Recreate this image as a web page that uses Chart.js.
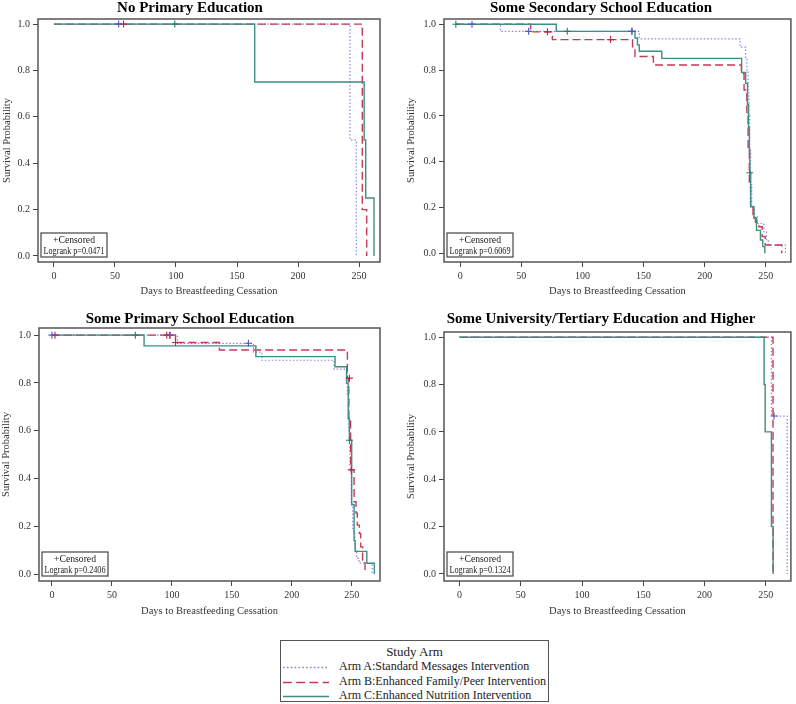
<!DOCTYPE html>
<html>
<head>
<meta charset="utf-8">
<script src="https://cdn.jsdelivr.net/npm/chart.js@4.4.0/dist/chart.umd.min.js"></script>
<style>
  body { margin: 0; background: #fff; width: 796px; height: 704px; position: relative; overflow: hidden; font-family: 'Liberation Serif', serif; }
  canvas { position: absolute; }
  #legend { position: absolute; left: 280px; top: 640px; width: 269px; height: 62px; border: 1px solid #555; box-sizing: border-box; color: #222; }
  #legend .ttl { position: absolute; left: 0; right: 0; top: 3px; text-align: center; font-size: 13px; }
  #legend .row { position: absolute; left: 2px; height: 15px; font-size: 12px; line-height: 15px; white-space: nowrap; }
  #legend svg { position: absolute; left: 0; top: 7px; }
  #legend span { position: absolute; left: 56px; top: 0; }
</style>
</head>
<body>
<canvas id="c0" width="396" height="300" style="left:0;top:0"></canvas>
<canvas id="c1" width="400" height="300" style="left:396px;top:0"></canvas>
<canvas id="c2" width="396" height="320" style="left:0;top:300px"></canvas>
<canvas id="c3" width="400" height="320" style="left:396px;top:300px"></canvas>
<div id="legend"></div>
<script>
// tick labels and names
const xTicks = [0, 50, 100, 150, 200, 250];
const yTicks = [0, 0.2, 0.4, 0.6, 0.8, 1.0];
const armLabels = [
  'Arm A:Standard Messages Intervention',
  'Arm B:Enhanced Family/Peer Intervention',
  'Arm C:Enhanced Nutrition Intervention'
];
const panelTitles = [
  'No Primary Education',
  'Some Secondary School Education',
  'Some Primary School Education',
  'Some University/Tertiary Education and Higher'
];
const logrankP = ['0.0471', '0.6069', '0.2406', '0.1324'];

// Kaplan-Meier steps: [day, survival after step]
const noPrimA = [[0, 1], [242.6, 0.5], [247.8, 0]];
const noPrimB = [[0, 1], [252.7, 0.2], [256.3, 0]];
const noPrimC = [[0, 1], [164.5, 0.75], [254.2, 0.5], [255.5, 0.25], [262.3, 0]];
const noPrimCensA = [[53, 1]];
const noPrimCensB = [[57, 1]];
const noPrimCensC = [[99, 1]];

const secA = [[-3.5, 1], [33, 0.969], [146.5, 0.936], [228.9, 0.9], [233.5, 0.85], [234.5, 0.8], [235.5, 0.7],
  [236.2, 0.6], [236.8, 0.45], [237.5, 0.3], [238.5, 0.2], [240.5, 0.16], [243, 0.13], [248.4, 0.094],
  [250.5, 0.06], [252, 0.036], [266, 0]];
const secB = [[-3.5, 1], [57.6, 0.967], [75.4, 0.933], [141, 0.902], [143, 0.859], [158, 0.822], [230, 0.785],
  [232.2, 0.713], [234.5, 0.6], [235.5, 0.45], [236.5, 0.3], [237.5, 0.2], [239.5, 0.16], [241.5, 0.135],
  [244.3, 0.116], [247, 0.073], [249.5, 0.036], [263, 0]];
const secC = [[-3.5, 1], [78.6, 0.969], [143, 0.94], [145, 0.91], [146.5, 0.882], [164.9, 0.851], [230.2, 0.79],
  [233.5, 0.742], [235, 0.65], [235.8, 0.55], [236.5, 0.45], [236.9, 0.352], [237.6, 0.203], [240.3, 0.153],
  [242.4, 0.1], [245.6, 0.058], [247.5, 0.029], [249.2, 0]];
const secCensA = [[9.7, 1], [56, 0.969], [140.5, 0.969]];
const secCensB = [[71.4, 0.967], [123, 0.933]];
const secCensC = [[-3.5, 1], [87.6, 0.969], [140.5, 0.969], [236.9, 0.352]];

const priA = [[0, 1], [104.5, 0.966], [168, 0.929], [175, 0.895], [235.2, 0.858], [246.3, 0.75], [247.5, 0.6],
  [248.5, 0.45], [249.5, 0.3], [250.8, 0.18], [252.5, 0.1], [254, 0.066], [256, 0.046], [267, 0]];
const priB = [[0, 1], [103, 0.969], [139.6, 0.938], [246.3, 0.82], [247.5, 0.65], [249, 0.436], [251.9, 0.303],
  [253.5, 0.255], [254.6, 0.205], [256.3, 0.17], [257.4, 0.114], [259, 0.059], [261, 0]];
const priC = [[0, 1], [76.8, 0.955], [170, 0.91], [236, 0.868], [245.6, 0.8], [247, 0.65], [248, 0.56],
  [249.9, 0.29], [251.9, 0.14], [252.8, 0.095], [262.5, 0.045], [268.8, 0]];
const priCensA = [[0, 1], [98, 1], [163.8, 0.966]];
const priCensB = [[2.5, 1], [95.7, 1], [98.5, 1], [103, 0.969], [248, 0.82], [249.5, 0.436]];
const priCensC = [[69.5, 1], [248, 0.56]];

const uniA = [[0, 1], [254.6, 0.667], [267.5, 0]];
const uniB = [[0, 1], [255.9, 0]];
const uniC = [[0, 1], [248.6, 0.8], [249.5, 0.6], [254.6, 0.2], [256, 0]];
const uniCensA = [[256.7, 0.667]];
const uniCensB = [];
const uniCensC = [];

const panelSeries = [
  [[noPrimA, noPrimB, noPrimC], [noPrimCensA, noPrimCensB, noPrimCensC]],
  [[secA, secB, secC], [secCensA, secCensB, secCensC]],
  [[priA, priB, priC], [priCensA, priCensB, priCensC]],
  [[uniA, uniB, uniC], [uniCensA, uniCensB, uniCensC]]
];

// styles
const armColors = ['#8787e3', '#c63a56', '#3c8f83'];
const censColors = ['#5454cc', '#c02444', '#2e7a70'];
const armDash = [[1.5, 2], [8, 4], []];

// layout for each canvas: chart area and axis ranges
const layouts = [
  { left: 38, top: 19, right: 16, xTitleGap: 38, yTitlePad: 1, xMin: -13.1, xMax: 267.2, yMin: -0.026, yMax: 1.022, titleX: 190, titleY: 8 },
  { left: 48, top: 19, right: 2, xTitleGap: 38, yTitlePad: 9, xMin: -13.2, xMax: 270.5, yMin: -0.038, yMax: 1.023, titleX: 205, titleY: 8 },
  { left: 39, top: 28, right: 16, xTitleGap: 39, yTitlePad: 0, xMin: -10.8, xMax: 273.5, yMin: -0.029, yMax: 1.03, titleX: 190, titleY: 19 },
  { left: 48, top: 32, right: 2, xTitleGap: 39, yTitlePad: 9, xMin: -12.7, xMax: 270.5, yMin: -0.03, yMax: 1.022, titleX: 205, titleY: 19 }
];

const FONT = "'Liberation Serif', serif";

const framePlugin = {
  id: 'frame',
  afterDraw(chart, args, opts) {
    const { ctx, chartArea: a } = chart;
    ctx.save();
    ctx.strokeStyle = '#555';
    ctx.lineWidth = 1.5;
    ctx.strokeRect(a.left, a.top, a.right - a.left, a.bottom - a.top);
    // title
    ctx.fillStyle = '#000';
    ctx.font = 'bold 15px ' + FONT;
    ctx.textAlign = 'center';
    ctx.textBaseline = 'middle';
    ctx.fillText(opts.title, opts.titleX, opts.titleY);
    // censored / logrank box
    const bx = a.left + 3, by = a.bottom - 29, bw = 66, bh = 24;
    ctx.fillStyle = '#fff';
    ctx.fillRect(bx, by, bw, bh);
    ctx.strokeStyle = '#444';
    ctx.lineWidth = 1.2;
    ctx.strokeRect(bx, by, bw, bh);
    ctx.fillStyle = '#222';
    ctx.font = '10px ' + FONT;
    ctx.fillText('+Censored', bx + bw / 2, by + 7, 42);
    ctx.fillText('Logrank p=' + opts.p, bx + bw / 2, by + 18, 61);
    ctx.restore();
  }
};

panelSeries.forEach(([curves, cens], k) => {
  const L = layouts[k];
  const canvas = document.getElementById('c' + k);
  const datasets = [];
  curves.forEach((pts, i) => {
    datasets.push({
      type: 'line',
      label: armLabels[i],
      data: pts.map(([x, y]) => ({ x, y })),
      stepped: true,
      borderColor: armColors[i],
      borderDash: armDash[i],
      borderWidth: i === 0 ? 1.2 : 1.4,
      pointRadius: 0,
      fill: false,
      order: 3 - i
    });
  });
  cens.forEach((pts, i) => {
    datasets.push({
      type: 'scatter',
      data: pts.map(([x, y]) => ({ x, y })),
      pointStyle: 'cross',
      pointRadius: 3.5,
      borderColor: censColors[i],
      borderWidth: 1.1,
      showLine: false,
      order: 0
    });
  });
  const tickFont = { family: FONT, size: 10 };
  new Chart(canvas.getContext('2d'), {
    type: 'line',
    data: { datasets },
    plugins: [framePlugin],
    options: {
      responsive: false,
      animation: false,
      layout: { padding: { left: 0, top: L.top, right: L.right, bottom: 0 } },
      scales: {
        x: {
          type: 'linear',
          min: L.xMin,
          max: L.xMax,
          afterBuildTicks: s => { s.ticks = xTicks.map(v => ({ value: v })); },
          afterFit: s => { s.height = L.xTitleGap; },
          grid: { drawOnChartArea: false, drawTicks: true, tickLength: 5, color: '#444' },
          border: { display: false },
          ticks: { font: tickFont, color: '#333', padding: 3, maxRotation: 0 },
          title: { display: true, text: 'Days to Breastfeeding Cessation', font: { family: FONT, size: 10.5 }, color: '#333', padding: { top: 0, bottom: 2 } }
        },
        y: {
          min: L.yMin,
          max: L.yMax,
          afterBuildTicks: s => { s.ticks = yTicks.map(v => ({ value: v })); },
          afterFit: s => { s.width = L.left; },
          grid: { drawOnChartArea: false, drawTicks: true, tickLength: 5, color: '#444' },
          border: { display: false },
          ticks: { font: tickFont, color: '#333', padding: 3, callback: v => v.toFixed(1) },
          title: { display: true, text: 'Survival Probability', font: { family: FONT, size: 10.5 }, color: '#333', padding: { top: L.yTitlePad, bottom: 0 } }
        }
      },
      plugins: {
        legend: { display: false },
        tooltip: { enabled: false },
        frame: { title: panelTitles[k], titleX: L.titleX, titleY: L.titleY, p: logrankP[k] }
      }
    }
  });
});

// legend
const legend = document.getElementById('legend');
legend.innerHTML = '<div class="ttl">Study Arm</div>';
armLabels.forEach((lab, i) => {
  const row = document.createElement('div');
  row.className = 'row';
  row.style.top = (18 + i * 14.5) + 'px';
  const dash = armDash[i].length ? armDash[i].map(d => d * 1.1).join(',') : 'none';
  row.innerHTML = '<svg width="46" height="3"><line x1="0" y1="1.5" x2="46" y2="1.5" stroke="' + armColors[i] +
    '" stroke-width="1.6" stroke-dasharray="' + dash + '"/></svg><span></span>';
  row.querySelector('span').textContent = lab;
  legend.appendChild(row);
});
</script>
</body>
</html>
